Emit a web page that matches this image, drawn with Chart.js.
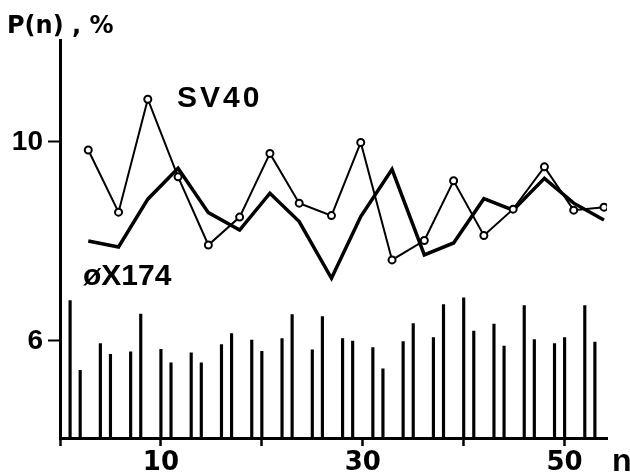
<!DOCTYPE html>
<html>
<head>
<meta charset="utf-8">
<script src="https://cdn.jsdelivr.net/npm/chart.js@4.4.1/dist/chart.umd.min.js"></script>
<style>
  html, body { margin: 0; padding: 0; background: #fff; }
  canvas { display: block; }
</style>
</head>
<body>
<canvas id="grafico" width="630" height="474"></canvas>
<script>
// Dados
const posicoes = [2.8, 5.8, 8.7, 11.7, 14.7, 17.8, 20.8, 23.7, 26.9, 29.8, 32.9, 36.1, 39.0, 42.0, 44.9, 48.0, 50.9, 53.9];
const sv40 = [9.84, 8.59, 10.86, 9.30, 7.93, 8.49, 9.77, 8.77, 8.52, 9.99, 7.63, 8.02, 9.22, 8.12, 8.65, 9.50, 8.63, 8.69];
const phiX174 = [8.01, 7.89, 8.85, 9.47, 8.58, 8.23, 8.97, 8.40, 7.26, 8.50, 9.45, 7.73, 7.97, 8.86, 8.63, 9.27, 8.77, 8.43];

const barrasN = [1, 2, 4, 5, 7, 8, 10, 11, 13, 14, 16, 17, 19, 20, 22, 23, 25, 26, 28, 29, 31, 32, 34, 35, 37, 38, 40, 41, 43, 44, 46, 47, 49, 50, 52, 53];
const barrasP = [6.81, 5.41, 5.95, 5.73, 5.78, 6.54, 5.83, 5.56, 5.76, 5.56, 5.93, 6.15, 6.02, 5.79, 6.05, 6.53, 5.82, 6.49, 6.05, 6.00, 5.87, 5.44, 5.99, 6.35, 6.07, 6.73, 6.87, 6.20, 6.34, 5.90, 6.71, 6.03, 5.95, 6.07, 6.71, 5.98];

const yTicks = [6, 10];
const xTicks = [0, 10, 20, 30, 40, 50];
const xTickLabels = ['', '10', '', '30', '', '50'];

// Textos soltos da figura
const rotulos = {
  id: 'rotulos',
  afterDraw(chart) {
    const ctx = chart.ctx;
    ctx.save();
    ctx.fillStyle = '#000';
    ctx.textBaseline = 'alphabetic';
    ctx.textAlign = 'left';
    ctx.font = 'bold 24px "DejaVu Sans"';
    ctx.fillText('P(n) , %', 7, 33);
    ctx.font = 'bold 30px "Liberation Sans"';
    ctx.letterSpacing = '3px';
    ctx.fillText('SV40', 177, 107);
    ctx.letterSpacing = '0px';
    ctx.fillText('øX174', 83, 285);
    ctx.font = 'bold 32px "Liberation Sans"';
    ctx.fillText('n', 612, 471);
    ctx.restore();
  }
};

const ctx = document.getElementById('grafico').getContext('2d');

new Chart(ctx, {
  data: {
    datasets: [
      {
        type: 'line',
        label: 'SV40',
        data: posicoes.map((n, i) => ({ x: n, y: sv40[i] })),
        borderColor: '#000',
        borderWidth: 2,
        pointRadius: 3.5,
        pointBorderWidth: 2,
        pointBorderColor: '#000',
        pointBackgroundColor: '#fff',
        tension: 0
      },
      {
        type: 'line',
        label: 'øX174',
        data: posicoes.map((n, i) => ({ x: n, y: phiX174[i] })),
        borderColor: '#000',
        borderWidth: 3.5,
        pointRadius: 0,
        tension: 0
      },
      {
        type: 'bar',
        label: 'P(n)',
        data: barrasN.map((n, i) => ({ x: n, y: barrasP[i] })),
        backgroundColor: '#000',
        barThickness: 2.5,
        grouped: false
      }
    ]
  },
  options: {
    responsive: false,
    animation: false,
    layout: { padding: { top: 40, right: 23, left: 0, bottom: 0 } },
    plugins: {
      legend: { display: false },
      tooltip: { enabled: false }
    },
    scales: {
      x: {
        type: 'linear',
        min: 0,
        max: 54.2,
        offset: false,
        afterFit: s => { s.height = 36; },
        afterBuildTicks: s => { s.ticks = xTicks.map(v => ({ value: v })); },
        border: { display: true, color: '#000', width: 3 },
        grid: { offset: false, drawOnChartArea: false, drawTicks: true, tickLength: 8, tickWidth: 2.5, tickColor: '#000' },
        ticks: {
          color: '#000',
          padding: 2,
          maxRotation: 0,
          autoSkip: false,
          font: { family: 'DejaVu Sans', size: 26, weight: 'bold' },
          callback: (v, i) => xTickLabels[i]
        }
      },
      y: {
        min: 4.05,
        max: 12.05,
        afterFit: s => { s.width = 60; },
        afterBuildTicks: s => { s.ticks = yTicks.map(v => ({ value: v })); },
        border: { display: true, color: '#000', width: 3 },
        grid: { drawOnChartArea: false, drawTicks: true, tickLength: 12, tickWidth: 2, tickColor: '#000' },
        ticks: {
          color: '#000',
          padding: 5,
          autoSkip: false,
          font: { family: 'Liberation Sans', size: 28, weight: 'bold' },
          callback: v => String(v)
        }
      }
    }
  },
  plugins: [rotulos]
});
</script>
</body>
</html>
